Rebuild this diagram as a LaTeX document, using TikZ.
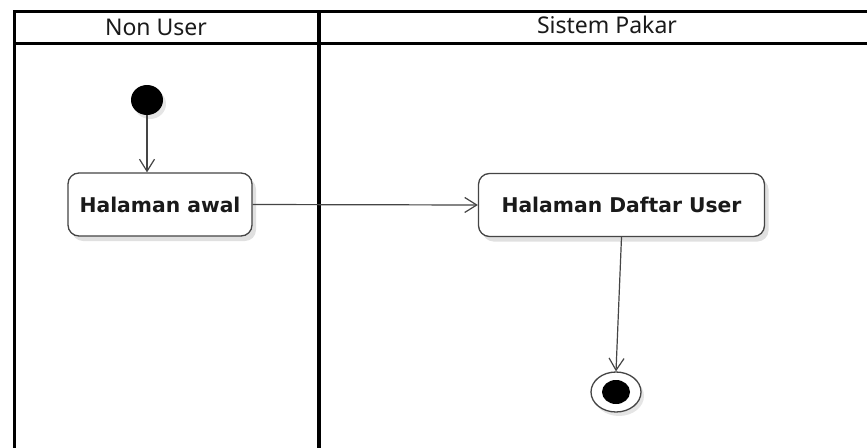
\documentclass[tikz,border=0pt]{standalone}
\usepackage{fontspec}
\usetikzlibrary{arrows.meta,shadows,shapes.geometric}
\newfontfamily\headfont{Noto Sans}
\newfontfamily\actfont{DejaVu Sans}
\definecolor{linegray}{HTML}{454545}
\definecolor{textdark}{HTML}{1A1A1A}
\begin{document}
\begin{tikzpicture}[x=1pt,y=-1pt,
  lane/.style={line width=3.5pt,black,line cap=rect},
  lanetitle/.style={font=\headfont\fontsize{23}{26}\selectfont,text=textdark,inner sep=0pt},
  action/.style={draw=linegray,line width=1.3pt,fill=white,rounded corners=11pt,
    minimum height=63pt,inner sep=0pt,
    font=\actfont\bfseries\fontsize{20.3}{24}\selectfont,text=textdark,
    drop shadow={shadow xshift=4pt,shadow yshift=-5pt,opacity=0.12,fill=black}},
  flow/.style={draw=linegray,line width=1.2pt,-{Straight Barb[length=12pt,width=15pt,line width=1.2pt]}},
  startnode/.style={ellipse,fill=black,minimum width=32pt,minimum height=30pt,inner sep=0pt,
    drop shadow={shadow xshift=3pt,shadow yshift=-4pt,opacity=0.1,fill=black}},
  endring/.style={draw=linegray,line width=1.3pt,fill=white,ellipse,minimum width=50pt,
    minimum height=40pt,inner sep=0pt,
    drop shadow={shadow xshift=3pt,shadow yshift=-4pt,opacity=0.1,fill=black}},
  enddot/.style={fill=black,ellipse,minimum width=28pt,minimum height=24pt,inner sep=0pt}
]
\useasboundingbox (0,0) rectangle (867,447);
\fill[white] (0,0) rectangle (867,447);

% swimlane frame
\draw[lane] (14.5,460) -- (14.5,11.5) -- (880,11.5);
\draw[lane] (14.5,43.5) -- (880,43.5);
\draw[lane] (319,11.5) -- (319,460);

% lane titles
\node[lanetitle] (laneA) at (156,27) {Non User};
\node[lanetitle] (laneB) at (607,25) {Sistem Pakar};

% activity nodes
\node[startnode] (init) at (147,100) {};
\node[action,minimum width=184pt] (awal) at (160,204.5) {Halaman awal};
\node[action,minimum width=286pt] (daftar) at (621.5,205) {Halaman Daftar User};

% final node
\node[endring] (final) at (616,392) {};
\node[enddot] (finaldot) at (final.center) {};

% control flows
\draw[flow] (init.south) -- (init.south |- awal.north);
\draw[flow] (awal.east) -- (daftar.west);
\draw[flow] (daftar.south) -- (final.north);
\end{tikzpicture}
\end{document}
